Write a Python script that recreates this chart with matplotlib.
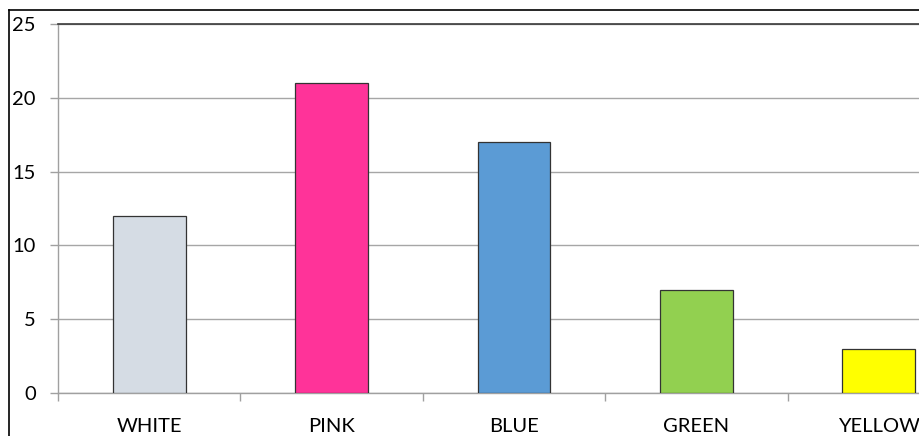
import numpy as np
import matplotlib
matplotlib.use("Agg")
from matplotlib import pyplot as plt
from matplotlib.lines import Line2D

# chart data
colours = ["WHITE", "PINK", "BLUE", "GREEN", "YELLOW"]
counts = [12, 21, 17, 7, 3]
bar_colors = ["#D5DCE4", "#FF3399", "#5B9BD5", "#92D050", "#FFFF00"]
y_ticks = [0, 5, 10, 15, 20, 25]

W, H = 919, 436
plt.rcParams['font.family'] = ['Lato', 'DejaVu Sans']

fig = plt.figure(figsize=(W / 100, H / 100), dpi=100)
# plot area runs past the right edge (screenshot is cropped)
left, right, top, bottom = 58, 970, 24, 393
ax = fig.add_axes([left / W, 1 - bottom / H, (right - left) / W, (bottom - top) / H])

x = np.arange(len(colours))
ax.bar(x, counts, width=0.4, color=bar_colors, edgecolor="#333333", linewidth=0.9, zorder=3)

ax.set_xlim(-0.5, len(colours) - 0.5)
ax.set_ylim(0, 25)
ax.set_yticks(y_ticks)
ax.set_yticklabels([str(v) for v in y_ticks])
ax.yaxis.grid(True, color="#A6A6A6", linewidth=1.0, zorder=0)

# category labels centred, ticks on the boundaries
ax.set_xticks(x)
ax.set_xticklabels(colours)
ax.set_xticks(np.arange(len(colours)) - 0.5, minor=True)
ax.tick_params(axis="x", which="major", length=0, pad=18, labelsize=14.5, colors="#000000")
ax.tick_params(axis="x", which="minor", length=6, width=1, color="#A0A0A0", direction="out")
ax.tick_params(axis="y", length=6, width=1, color="#A0A0A0", pad=10, labelsize=14.5)

for side in ["left", "bottom"]:
    ax.spines[side].set_color("#A0A0A0")
    ax.spines[side].set_linewidth(1.0)
ax.spines["top"].set_color("#3A3A3A")
ax.spines["top"].set_linewidth(1.2)
ax.spines["right"].set_visible(False)

# outer chart frame (top and left edges visible)
fig.add_artist(Line2D([9 / W, 9 / W], [0, 1 - 10 / H], transform=fig.transFigure, color="black", linewidth=1.2))
fig.add_artist(Line2D([9 / W, 1], [1 - 10 / H, 1 - 10 / H], transform=fig.transFigure, color="black", linewidth=1.2))

fig.savefig("out.png", dpi=100)
